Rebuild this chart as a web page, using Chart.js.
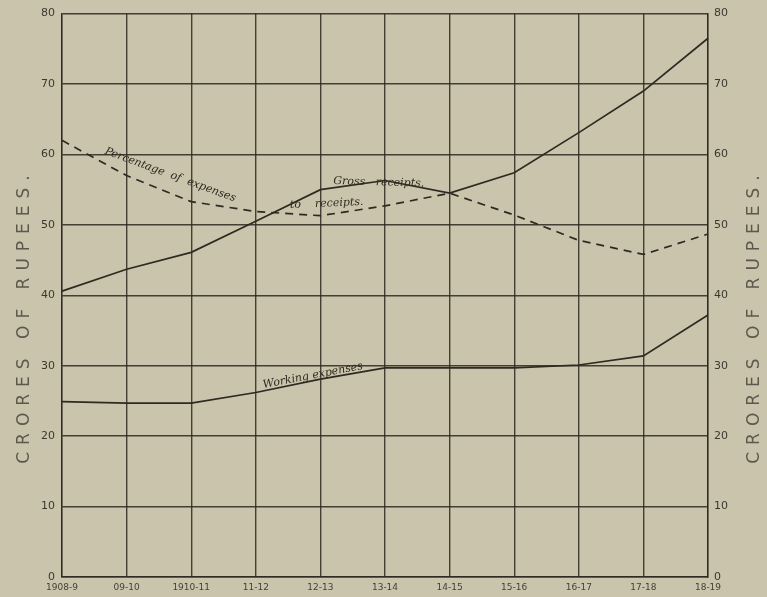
<!DOCTYPE html>
<html lang="en">
<head>
  <meta charset="UTF-8">
  <title>Gross receipts and working expenses</title>
  <script src="https://cdn.jsdelivr.net/npm/chart.js"></script>
  <style>
    html, body { margin: 0; padding: 0; background: #c9c4ab; }
    #wrap { width: 767px; height: 597px; }
  </style>
</head>
<body>
  <div id="wrap"><canvas id="grafico" width="767" height="597"></canvas></div>

  <script>
    // years on the bottom axis
    const years = ['1908-9', '09-10', '1910-11', '11-12', '12-13', '13-14', '14-15', '15-16', '16-17', '17-18', '18-19'];
    // crores of rupees
    const grossReceipts = [40.6, 43.7, 46.1, 50.5, 55.0, 56.3, 54.5, 57.4, 63.1, 69.0, 76.5];
    const workingExpenses = [24.9, 24.7, 24.7, 26.2, 28.1, 29.7, 29.7, 29.7, 30.1, 31.4, 37.2];
    // percentage of expenses to receipts (read on the right hand scale)
    const percentExpenses = [62.0, 57.0, 53.3, 51.9, 51.3, 52.7, 54.5, 51.4, 47.8, 45.8, 48.7];
    const yTicks = [0, 10, 20, 30, 40, 50, 60, 70, 80];
    const axisTitle = 'CRORES OF RUPEES.';

    const ink = '#2e2a22';
    const gridInk = 'rgba(45, 40, 30, 0.85)';

    // page colour
    const fondo = {
      id: 'fondo',
      beforeDraw(chart) {
        const c = chart.ctx;
        c.save();
        c.fillStyle = '#c9c4ab';
        c.fillRect(0, 0, chart.width, chart.height);
        c.restore();
      }
    };

    // writes a label along the line between two points of a dataset
    function textAlong(chart, dsIndex, i0, i1, txt, shift, lift) {
      const meta = chart.getDatasetMeta(dsIndex);
      const a = meta.data[i0], b = meta.data[i1];
      const ang = Math.atan2(b.y - a.y, b.x - a.x);
      const c = chart.ctx;
      c.save();
      c.translate(a.x + (b.x - a.x) * shift, a.y + (b.y - a.y) * shift);
      c.rotate(ang);
      c.fillText(txt, 0, -lift);
      c.restore();
    }

    const rotulos = {
      id: 'rotulos',
      afterDatasetsDraw(chart) {
        const c = chart.ctx;
        c.save();
        c.fillStyle = ink;
        c.font = 'italic 11px "DejaVu Serif"';
        c.textAlign = 'center';
        c.textBaseline = 'alphabetic';
        textAlong(chart, 2, 0, 3, 'Percentage  of  expenses', 0.55, 2);
        textAlong(chart, 2, 3, 5, 'to    receipts.', 0.55, 2);
        textAlong(chart, 0, 4, 6, 'Gross   receipts.', 0.45, 6);
        textAlong(chart, 1, 3, 5, 'Working expenses', 0.45, 3);

        // axis titles, both reading upward
        c.font = '17px "DejaVu Sans"';
        c.fillStyle = '#5c584c';
        c.letterSpacing = '7px';
        c.textBaseline = 'middle';
        const midY = 316;
        [25, 755].forEach(x => {
          c.save();
          c.translate(x, midY);
          c.rotate(-Math.PI / 2);
          c.fillText(axisTitle, 0, 0);
          c.restore();
        });
        c.restore();
      }
    };

    const config = {
      type: 'line',
      data: {
        labels: years,
        datasets: [
          {
            label: 'Gross receipts',
            data: grossReceipts,
            borderColor: ink,
            borderWidth: 1.7,
            pointRadius: 0,
            tension: 0,
            yAxisID: 'y'
          },
          {
            label: 'Working expenses',
            data: workingExpenses,
            borderColor: ink,
            borderWidth: 1.7,
            pointRadius: 0,
            tension: 0,
            yAxisID: 'y'
          },
          {
            label: 'Percentage of expenses to receipts',
            data: percentExpenses,
            borderColor: ink,
            borderWidth: 1.7,
            borderDash: [8, 6],
            pointRadius: 0,
            tension: 0,
            yAxisID: 'y2'
          }
        ]
      },
      options: {
        responsive: false,
        animation: false,
        layout: { padding: { top: 10, left: 0, right: 0, bottom: 0 } },
        plugins: {
          legend: { display: false },
          tooltip: { enabled: false }
        },
        scales: {
          x: {
            offset: false,
            grid: { color: gridInk, lineWidth: 1.4, drawTicks: false },
            border: { color: gridInk, width: 1.4 },
            ticks: {
              color: '#45413a',
              font: { family: 'DejaVu Sans', size: 9 },
              padding: 5,
              maxRotation: 0,
              autoSkip: false
            },
            afterFit(s) { s.height = 20; }
          },
          y: {
            position: 'left',
            min: 0,
            max: 80,
            afterBuildTicks(s) { s.ticks = yTicks.map(v => ({ value: v })); },
            grid: { color: gridInk, lineWidth: 1.4, drawTicks: false },
            border: { color: gridInk, width: 1.4 },
            ticks: {
              color: '#3b3830',
              font: { family: 'DejaVu Sans', size: 11 },
              padding: 7
            },
            afterFit(s) { s.width = 62; }
          },
          y2: {
            position: 'right',
            min: 0,
            max: 80,
            afterBuildTicks(s) { s.ticks = yTicks.map(v => ({ value: v })); },
            grid: { display: false, drawTicks: false },
            border: { color: gridInk, width: 1.4 },
            ticks: {
              color: '#3b3830',
              font: { family: 'DejaVu Sans', size: 11 },
              padding: 6
            },
            afterFit(s) { s.width = 59; }
          }
        }
      },
      plugins: [fondo, rotulos]
    };

    const grafico = new Chart(document.getElementById('grafico').getContext('2d'), config);
  </script>
</body>
</html>
